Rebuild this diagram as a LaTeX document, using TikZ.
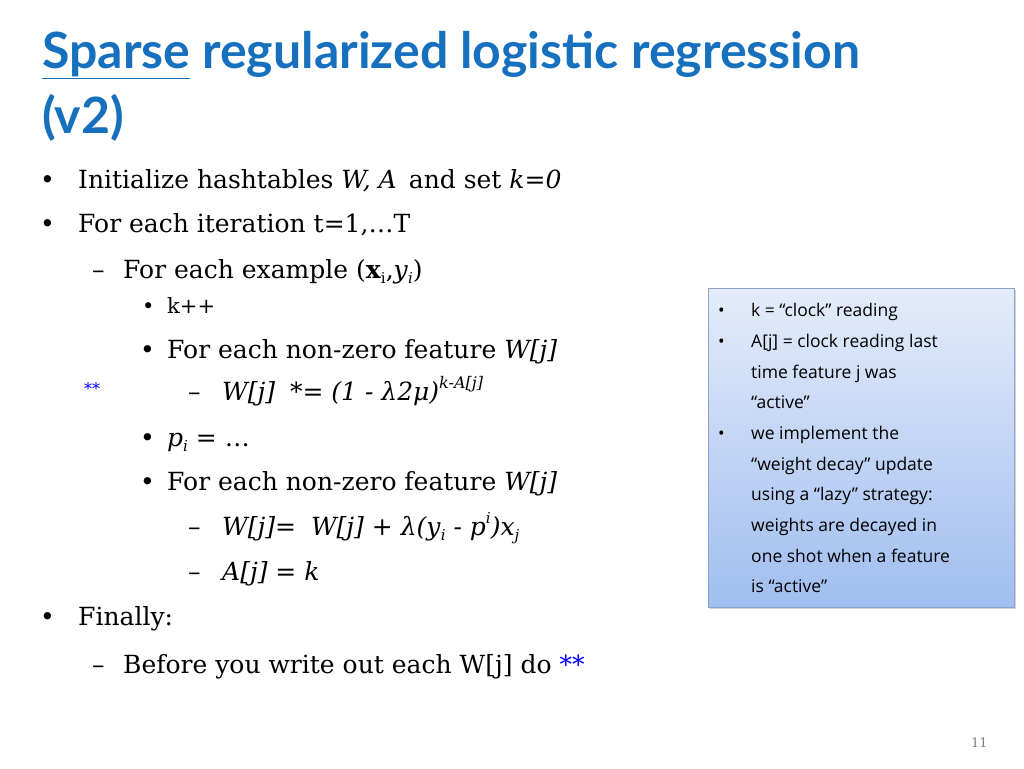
\documentclass[tikz,border=0pt]{standalone}
\usepackage{fontspec}
\usetikzlibrary{shadows}
\setmainfont{DejaVu Serif}
\newfontfamily\titlefont{Lato}
\newfontfamily\boxfont{Open Sans}
\definecolor{titleblue}{RGB}{23,112,190}
\definecolor{boxtop}{RGB}{228,236,250}
\definecolor{boxbot}{RGB}{160,190,240}
\definecolor{boxedge}{RGB}{140,165,205}
\begin{document}
\begin{tikzpicture}[x=1pt,y=-1pt,
  txt/.style={anchor=base west,inner sep=0pt,font=\fontsize{25}{30}\selectfont},
  sm/.style={anchor=base west,inner sep=0pt,font=\fontsize{21}{25}\selectfont},
  bx/.style={anchor=base west,inner sep=0pt,font=\boxfont\fontsize{17.5}{20}\selectfont}]
\useasboundingbox (0,0) rectangle (1024,768);
\node[anchor=base west,inner sep=0pt,text=titleblue,font=\titlefont\bfseries\fontsize{50}{56}\selectfont] (t1) at (42,68) {\underline{Sparse} regularized logistic regression};
\node[anchor=base west,inner sep=0pt,text=titleblue,font=\titlefont\bfseries\fontsize{50}{56}\selectfont] (t2) at (42,133) {(v2)};
\node[txt] (b1) at (40,188) {•};
\node[txt] (l1) at (78,188) {Initialize hashtables \textit{W, A}\, and set \textit{k=0}};
\node[txt] (b2) at (40,232) {•};
\node[txt] (l2) at (78,232) {For each iteration t=1,…T};
\node[txt] (d3) at (92,278) {–};
\node[txt] (l3) at (123,278) {For each example (\textbf{x}\raisebox{-0.2em}{\fontsize{15}{17}\selectfont i},\textit{y}\raisebox{-0.2em}{\fontsize{15}{17}\selectfont\textit{i}})};
\node[sm] (b4) at (142,313) {•};
\node[sm] (l4) at (167,313) {k++};
\node[txt] (b5) at (140,358) {•};
\node[txt] (l5) at (167,358) {For each non-zero feature \textit{W[j]}};
\node[anchor=base west,inner sep=0pt,text=blue,font=\fontsize{16}{18}\selectfont] (ss) at (84,394) {**};
\node[txt] (d6) at (188,400) {–};
\node[txt] (l6) at (222,400) {\textit{W[j]}\; *= \textit{(1 - λ2μ)}\raisebox{0.45em}{\fontsize{16}{18}\selectfont\textit{k-A[j]}}};
\node[txt] (b7) at (140,446) {•};
\node[txt] (l7) at (167,446) {\textit{p}\raisebox{-0.2em}{\fontsize{15}{17}\selectfont\textit{i}} = …};
\node[txt] (b8) at (140,490) {•};
\node[txt] (l8) at (167,490) {For each non-zero feature \textit{W[j]}};
\node[txt] (d9) at (188,535) {–};
\node[txt] (l9) at (222,535) {\textit{W[j]}= \;\textit{W[j]} + \textit{λ(y}\raisebox{-0.2em}{\fontsize{15}{17}\selectfont\textit{i}} \textit{- p}\raisebox{0.45em}{\fontsize{15}{17}\selectfont\textit{i}}\textit{)x}\raisebox{-0.2em}{\fontsize{15}{17}\selectfont\textit{j}}};
\node[txt] (d10) at (188,580) {–};
\node[txt] (l10) at (222,580) {\textit{A[j]} = \textit{k}};
\node[txt] (b11) at (40,625) {•};
\node[txt] (l11) at (78,625) {Finally:};
\node[txt] (d12) at (92,673) {–};
\node[txt] (l12) at (123,673) {Before you write out each W[j] do {\color{blue}**}};
\path[draw=boxedge,top color=boxtop,bottom color=boxbot,drop shadow={opacity=0.35,shadow xshift=2pt,shadow yshift=-2pt}] (708,288) rectangle (1014,607);
\foreach \y/\b/\t in {316/1/{k = “clock” reading},347/1/{A[j] = clock reading last},378/0/{time feature j was},408/0/{“active”},439/1/{we implement the},470/0/{“weight decay” update},500/0/{using a “lazy” strategy:},531/0/{weights are decayed in},562/0/{one shot when a feature},592/0/{is “active”}}{
  \ifnum\b=1 \node[bx] at (718,\y) {•}; \fi
  \node[bx] at (751,\y) {\t};
}
\node[anchor=base west,inner sep=0pt,text=gray,font=\fontsize{13}{15}\selectfont] (pg) at (971,747) {11};
\end{tikzpicture}
\end{document}
